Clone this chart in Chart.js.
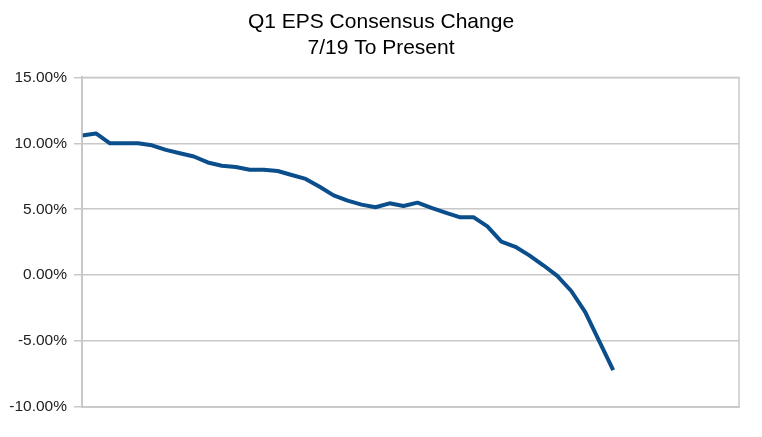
<!DOCTYPE html>
<html>
<head>
<meta charset="utf-8">
<script src="https://cdn.jsdelivr.net/npm/chart.js@4/dist/chart.umd.min.js"></script>
<style>
	html, body { margin: 0; padding: 0; background: #fff; }
	#wrap { position: relative; width: 762px; height: 437px; }
</style>
</head>
<body>
<div id="wrap"><canvas id="chart"></canvas></div>
<script>
// weekly observations since 7/19, the tail of the axis is still empty
let weeks = [
	1, 2, 3, 4, 5, 6, 7, 8, 9, 10, 11, 12,
	13, 14, 15, 16, 17, 18, 19, 20, 21, 22, 23, 24,
	25, 26, 27, 28, 29, 30, 31, 32, 33, 34, 35, 36,
	37, 38, 39, 40, 41, 42, 43, 44, 45, 46, 47, 48,
];
let epsChange = [
	10.6, 10.75, 10.0, 10.0, 10.0, 9.85, 9.5, 9.25, 9.0, 8.55,
	8.3, 8.2, 8.0, 8.0, 7.9, 7.6, 7.3, 6.7, 6.05, 5.65,
	5.35, 5.15, 5.45, 5.25, 5.5, 5.1, 4.75, 4.4, 4.4, 3.7,
	2.55, 2.15, 1.5, 0.75, -0.05, -1.2, -2.8, -5.0, -7.2,
];
let yTicks = [-10, -5, 0, 5, 10, 15];
let titleLines = ['Q1 EPS Consensus Change', '7/19 To Present'];

let frame = {
	id: 'frame',
	afterDraw(chart) {
		let {ctx, chartArea} = chart;
		ctx.save();
		ctx.strokeStyle = '#c8c8c8';
		ctx.lineWidth = 1.5;
		ctx.strokeRect(chartArea.left, chartArea.top, chartArea.width, chartArea.height);
		ctx.restore();
	},
};

new Chart(document.getElementById('chart'), {
	type: 'line',
	data: {
		labels: weeks,
		datasets: [{
			data: epsChange,
			borderColor: '#0b4e8c',
			borderWidth: 4,
			borderJoinStyle: 'round',
			borderCapStyle: 'butt',
			pointRadius: 0,
			tension: 0,
			fill: false,
		}],
	},
	options: {
		responsive: true,
		maintainAspectRatio: false,
		animation: false,
		layout: {
			padding: 0,
		},
		plugins: {
			legend: {display: false},
			tooltip: {enabled: false},
			title: {
				display: true,
				text: titleLines,
				color: '#000',
				font: {family: '"Liberation Sans", Arial, sans-serif', size: 21, weight: 'normal', lineHeight: 1.2},
				padding: {top: 10, bottom: 17},
			},
		},
		scales: {
			x: {
				offset: false,
				afterFit(scale) {
					scale.height = 30;
				},
				ticks: {display: false},
				grid: {display: false},
				border: {display: true, color: '#c8c8c8', width: 1.5},
			},
			y: {
				min: -10,
				max: 15,
				afterBuildTicks(scale) {
					scale.ticks = yTicks.map(value => ({value}));
				},
				afterFit(scale) {
					scale.width = 82;
				},
				ticks: {
					color: '#222',
					padding: 7,
					font: {family: '"Liberation Sans", Arial, sans-serif', size: 15.5},
					callback: value => value.toFixed(2) + '%',
				},
				grid: {
					color: '#c8c8c8',
					lineWidth: 1.5,
					tickLength: 8,
				},
				border: {display: true, color: '#c8c8c8', width: 2},
			},
			// empty right margin, keeps the title centred on the whole canvas
			yRight: {
				position: 'right',
				min: -10,
				max: 15,
				afterFit(scale) {
					scale.width = 23;
				},
				ticks: {display: false},
				grid: {display: false, drawOnChartArea: false},
				border: {display: false},
			},
		},
	},
	plugins: [frame],
});
</script>
</body>
</html>
